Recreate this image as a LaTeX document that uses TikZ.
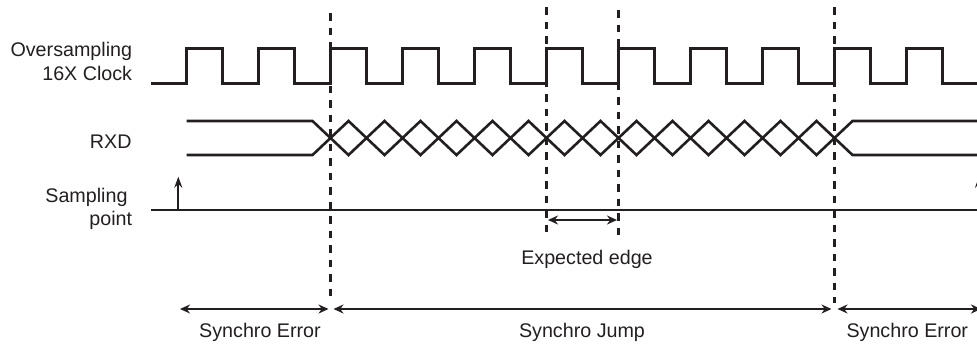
\documentclass[tikz,border=0pt]{standalone}
\usepackage{fontspec}
\setmainfont{Liberation Sans}
\usetikzlibrary{arrows.meta, calc}
\definecolor{ink}{RGB}{35,31,32}

\begin{document}
\begin{tikzpicture}[
    x=1pt, y=-1pt, color=ink,
    font=\fontsize{19.7}{24}\selectfont,
    wave/.style={line width=2.6pt, line join=miter},
    guide/.style={line width=2.5pt, dash pattern=on 7.5pt off 7pt},
    arrow/.style={<->, line width=2.6pt, >={Stealth[length=10pt, width=9pt]}},
    tarrow/.style={arrow, line width=1.5pt},
    samp/.style={-{Stealth[length=11pt, width=8pt]}, line width=1.9pt},
    lbl/.style={anchor=base east, align=right, inner sep=0pt},
    txt/.style={anchor=base, inner sep=0pt}
]

%% --- Frame ---
\path[use as bounding box] (0,0) rectangle (977,343);
\clip (0,0) rectangle (977,343);

%% --- Signal labels ---
\node[lbl] (clk) at (132.3,80.7) {Oversampling\\16X Clock};
\node[lbl] (rxd) at (131.7,148.3) {RXD};
\node[lbl, font=\fontsize{19.7}{22.7}\selectfont] (smp) at (132.3,225)
      {Sampling\hspace*{4.6pt}\\point};

%% --- Clock ---
\draw[wave] (151,83.3)
    \foreach \k in {0,...,10} {-- ({186.5+72*\k},83.3) |- ++(36,-35) -- ++(0,35)}
    -- (977,83.3);

%% --- RXD ---
\draw[wave] (186.5,121) -- (312.5,121)
    \foreach \m in {1,...,7} {-- ++(36,34) -- ++(36,-34)}
    -- ++(36,34) -- (977,155);
\draw[wave] (186.5,155) -- (312.5,155)
    \foreach \m in {1,...,7} {-- ++(36,-34) -- ++(36,34)}
    -- ++(36,-34) -- (977,121);

%% --- Sampling point ---
\draw[wave, line width=2.4pt] (151,210) -- (977,210);
\draw[samp] (178.3,210) -- (178.3,176.7);
\draw[samp] (979,210) -- (979,176.7);

%% --- Edges ---
\draw[guide] (330.5,13) -- (330.5,303);
\draw[guide] (546.5,7)  -- (546.5,236);
\draw[guide] (618.5,10) -- (618.5,236);
\draw[guide] (834.5,7)  -- (834.5,303);

%% --- Spans ---
\coordinate (s0) at (180,309);
\coordinate (s1) at (330.5,309);
\coordinate (s2) at (834.5,309);
\coordinate (s3) at (981,309);
\coordinate (x1) at (548,220);
\coordinate (x2) at (617,220);

\draw[tarrow] (s0) -- ($(s1)+(-2,0)$);
\draw[arrow]  ($(s1)+(3,0)$) -- ($(s2)+(-3,0)$);
\draw[arrow]  ($(s2)+(3,0)$) -- (s3);
\draw[arrow, line width=2.3pt] (x1) -- (x2);

\node[txt] (exp)  at (587,264.5)   {Expected edge};
\node[txt] (err1) at (260,337.3)   {Synchro Error};
\node[txt] (jump) at (582,337.3)   {Synchro Jump};
\node[txt] (err2) at (907.3,337.3) {Synchro Error};

\end{tikzpicture}
\end{document}
